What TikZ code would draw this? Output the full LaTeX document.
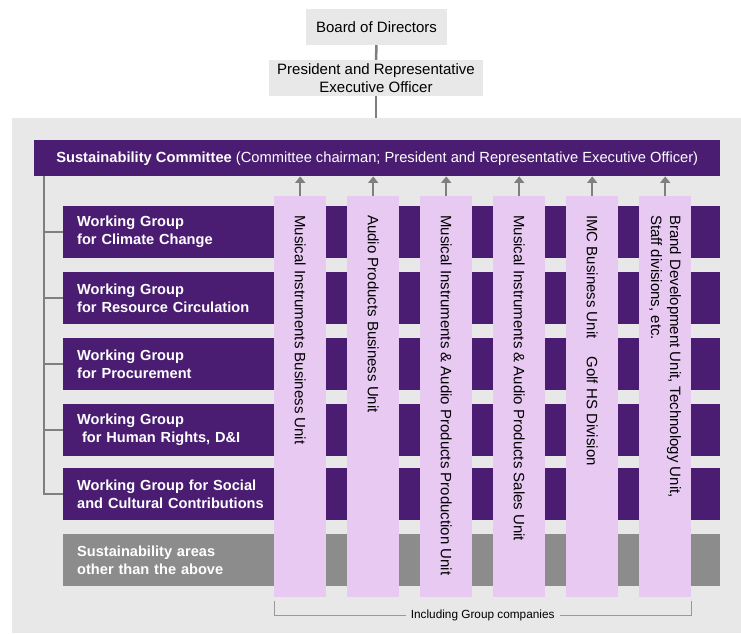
\documentclass[tikz,border=0pt]{standalone}
\usepackage{fontspec}
\setmainfont{Liberation Sans}
\usetikzlibrary{positioning,calc,arrows.meta}
\definecolor{wgpurple}{HTML}{4A1D72}
\definecolor{unitlilac}{HTML}{E7C9F2}
\definecolor{panelgray}{HTML}{E8E8E8}
\definecolor{othergray}{HTML}{8C8C8C}
\definecolor{linegray}{HTML}{7F7F7F}

\begin{document}
\begin{tikzpicture}[x=1pt, y=-1pt,
    every node/.append style={font=\fontsize{15}{17.5}\selectfont, inner sep=0pt},
    topbox/.style={fill=panelgray, align=center, minimum height=36pt},
    wgbox/.style={fill=wgpurple, text=white, font=\bfseries\fontsize{14.6}{18}\selectfont,
      anchor=north west, minimum height=52pt, text width=629pt, inner xsep=14pt, align=left},
    unit/.style={fill=unitlilac, anchor=north west, minimum width=52pt, minimum height=401pt},
    unitlabel/.style={rotate=-90, anchor=west, align=left, font=\fontsize{15}{19}\selectfont},
    link/.style={draw=linegray, line width=2.5pt},
    uparrow/.style={draw=linegray, line width=2pt, -{Triangle[length=6.5pt,width=10pt]}}]
  \useasboundingbox (0,0) rectangle (741,633);

  % top of the chart
  \node[topbox, minimum width=141pt] (board) at (376.5,27) {Board of Directors};
  \node[topbox, minimum width=214pt] (pres) at (376,78) {President and Representative\\Executive Officer};
  \node[fill=panelgray, anchor=north west, minimum width=729pt, minimum height=515pt] (panel) at (12,118) {};
  \draw[link] (board) -- (pres);
  \draw[link] (pres.south) -- (pres.south |- panel.north);

  % committee
  \node[fill=wgpurple, text=white, anchor=north west, minimum width=686pt, minimum height=36pt,
    font=\fontsize{14.7}{17}\selectfont] (sc) at (34,140)
    {{\bfseries Sustainability Committee} (Committee chairman; President and Representative Executive Officer)};

  % working groups
  \node[wgbox] (wg1) at (63,206) {Working Group\\for Climate Change};
  \node[wgbox] (wg2) at (63,272) {Working Group\\for Resource Circulation};
  \node[wgbox] (wg3) at (63,338) {Working Group\\for Procurement};
  \node[wgbox] (wg4) at (63,404) {Working Group\\\ for Human Rights, D\&I};
  \node[wgbox] (wg5) at (63,468) {Working Group for Social\\and Cultural Contributions};
  \node[wgbox, fill=othergray] (other) at (63,534) {Sustainability areas\\other than the above};

  \coordinate (spine) at ([xshift=10pt]sc.south west);
  \draw[link] (spine) |- (wg5.west);
  \foreach \i in {1,...,4}
    \draw[link] (wg\i.west) -- (wg\i.west -| spine);

  % business units
  \node[unit] (unit1) at (274,196) {};
  \node[unit] (unit2) at (347,196) {};
  \node[unit] (unit3) at (420,196) {};
  \node[unit] (unit4) at (493,196) {};
  \node[unit] (unit5) at (566,196) {};
  \node[unit] (unit6) at (639,196) {};

  \node[unitlabel] (lbl1) at (unit1.north |- 0,215) {Musical Instruments Business Unit};
  \node[unitlabel] (lbl2) at (unit2.north |- 0,215) {Audio Products Business Unit};
  \node[unitlabel] (lbl3) at (unit3.north |- 0,215) {Musical Instruments \& Audio Products Production Unit};
  \node[unitlabel] (lbl4) at (unit4.north |- 0,215) {Musical Instruments \& Audio Products Sales Unit};
  \node[unitlabel] (lbl5) at (unit5.north |- 0,215) {IMC Business Unit\hspace{18pt}Golf HS Division};
  \node[unitlabel] (lbl6) at (unit6.north |- 0,215) {Brand Development Unit, Technology Unit,\\Staff divisions, etc.};

  \foreach \i in {1,...,6}
    \draw[uparrow] (unit\i.north) -- (unit\i.north |- sc.south);

  % bracket below the units
  \draw[draw=linegray!80, line width=1pt] ([yshift=-4pt]unit1.south west) -- ([yshift=-18pt]unit1.south west)
    -- node[fill=panelgray, inner xsep=5pt, inner ysep=1pt, font=\fontsize{11.8}{13}\selectfont] (incl) {Including Group companies}
    ([yshift=-18pt]unit6.south east) -- ([yshift=-4pt]unit6.south east);
\end{tikzpicture}
\end{document}
